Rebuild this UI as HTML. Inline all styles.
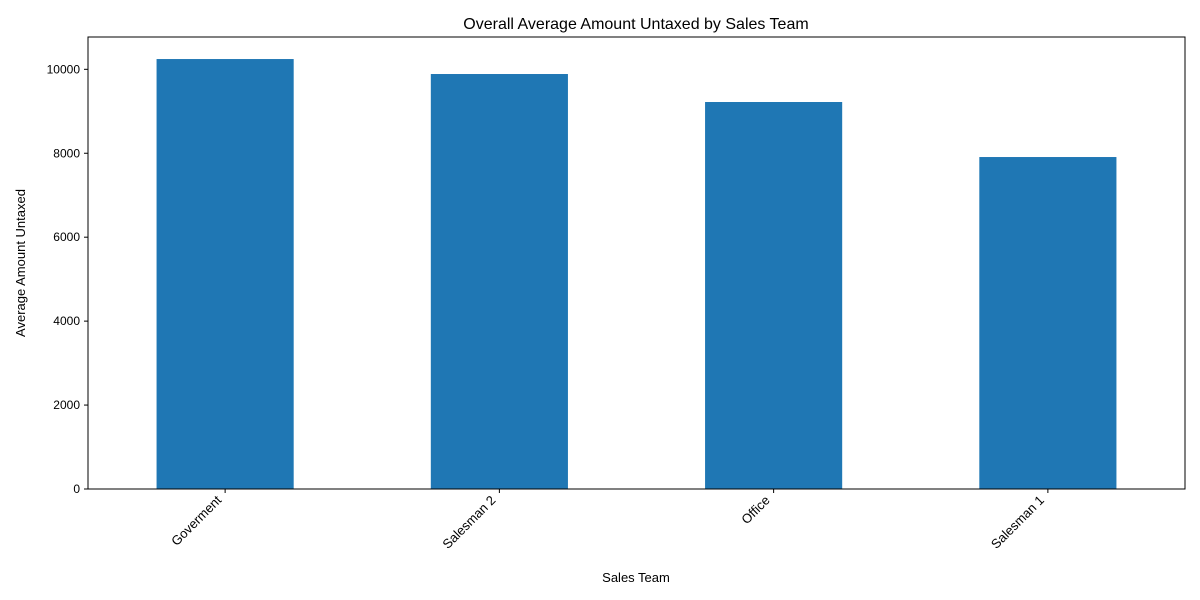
<!DOCTYPE html>
<html><head><meta charset="utf-8"><style>
body{margin:0;background:#fff;}
svg{display:block;font-family:"Liberation Sans","DejaVu Sans",sans-serif;}
</style></head><body>
<svg id="chart" width="1200" height="600">
<text x="636" y="29" text-anchor="middle" font-size="16">Overall Average Amount Untaxed by Sales Team</text>
<text x="636" y="582" text-anchor="middle" font-size="13">Sales Team</text>
<text transform="translate(25,263) rotate(-90)" text-anchor="middle" font-size="13">Average Amount Untaxed</text>
<g id="plot"></g>
<rect x="88" y="37" width="1097" height="452" fill="none" stroke="#000" stroke-width="1"/>
</svg>
<script>
const categories = ["Goverment","Salesman 2","Office","Salesman 1"];
const values = [10245, 9888, 9221, 7910];
const yTicks = [0, 2000, 4000, 6000, 8000, 10000];
const ns = "http://www.w3.org/2000/svg";
const L=88, R=1185, T=37, B=489, yMax=10770;
const y = v => B - v/yMax*(B-T);
const step = (R-L)/categories.length;
const x = i => L + step*(i+0.5);
const g = document.getElementById('plot');
function mk(tag, attrs){const e=document.createElementNS(ns,tag);for(const k in attrs)e.setAttribute(k,attrs[k]);g.appendChild(e);return e;}
values.forEach((v,i)=>{
  const r = mk('rect',{x:x(i)-step*0.25,y:y(v),width:step*0.5,height:B-y(v),fill:'#1f77b4'});
  
  
  const t = mk('line',{x1:x(i),x2:x(i),y1:B,y2:B+4,stroke:'#000'});
  
  
  const lb = mk('text',{x:0,y:0,'font-size':13,'text-anchor':'end',transform:`translate(${x(i)-3},${B+12}) rotate(-45)`});
  lb.textContent = categories[i];
  
  
});
yTicks.forEach(v=>{
  const t = mk('line',{x1:L-4,x2:L,y1:y(v),y2:y(v),stroke:'#000'});
  
  
  const lb = mk('text',{x:L-8,y:y(v)+4,'font-size':12,'text-anchor':'end'});
  lb.textContent = v;
  
  
});
</script>
</body></html>
